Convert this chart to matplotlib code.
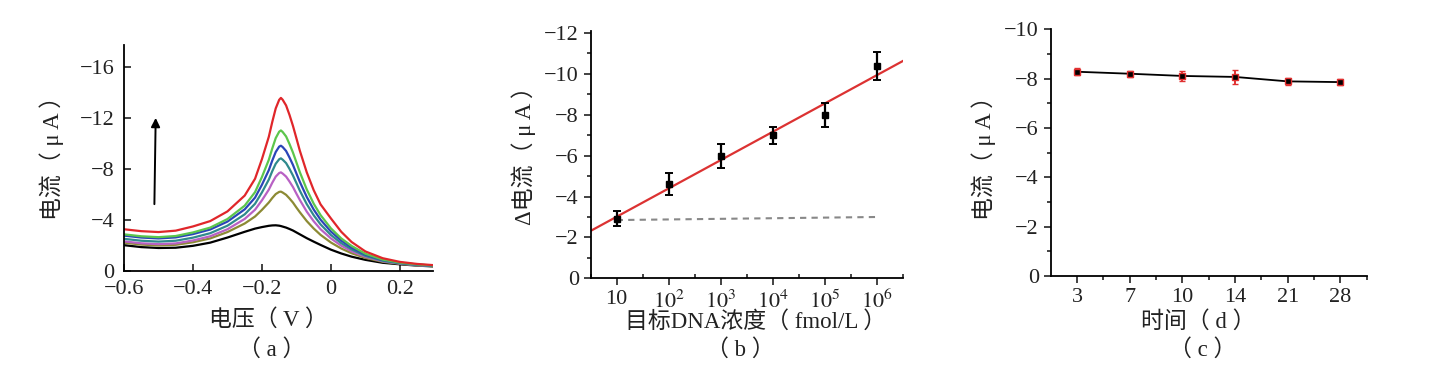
import numpy as np
import matplotlib
matplotlib.use('Agg')
import matplotlib.pyplot as plt
from matplotlib.ticker import FixedLocator, FuncFormatter

plt.rcParams['font.family'] = ['Liberation Serif', 'Noto Sans CJK SC']
plt.rcParams['mathtext.fontset'] = 'stix'

# (a) DPV curves, current in uA (shown negative)
voltage = [-0.60, -0.55, -0.50, -0.45, -0.40, -0.35, -0.30, -0.25, -0.22, -0.20,
           -0.18, -0.17, -0.16, -0.15, -0.145, -0.14, -0.13, -0.12, -0.11, -0.10,
           -0.09, -0.07, -0.05, -0.03, 0.00, 0.03, 0.06, 0.10, 0.15, 0.20, 0.25, 0.30]
cur_black = [2.00, 1.85, 1.78, 1.80, 1.95, 2.20, 2.60, 3.05, 3.30, 3.42,
             3.52, 3.55, 3.56, 3.53, 3.50, 3.46, 3.38, 3.27, 3.15, 3.00,
             2.85, 2.55, 2.28, 2.02, 1.65, 1.35, 1.10, 0.85, 0.62, 0.50, 0.40, 0.33]
cur_olive = [2.20, 2.05, 1.98, 2.03, 2.23, 2.53, 3.03, 3.70, 4.25, 4.77,
             5.35, 5.70, 6.01, 6.18, 6.20, 6.13, 5.95, 5.66, 5.34, 4.95,
             4.58, 3.89, 3.31, 2.81, 2.21, 1.74, 1.37, 1.00, 0.70, 0.54, 0.42, 0.35]
cur_purple = [2.30, 2.15, 2.08, 2.14, 2.37, 2.70, 3.25, 4.06, 4.78, 5.52,
              6.36, 6.90, 7.38, 7.66, 7.71, 7.62, 7.38, 6.99, 6.56, 6.04,
              5.54, 4.63, 3.88, 3.25, 2.53, 1.96, 1.52, 1.09, 0.74, 0.56, 0.43, 0.36]
cur_teal = [2.50, 2.35, 2.28, 2.35, 2.59, 2.94, 3.53, 4.42, 5.25, 6.14,
            7.15, 7.81, 8.39, 8.74, 8.81, 8.71, 8.44, 7.98, 7.46, 6.87,
            6.27, 5.22, 4.35, 3.63, 2.80, 2.16, 1.67, 1.17, 0.78, 0.58, 0.45, 0.37]
cur_blue = [2.75, 2.60, 2.53, 2.61, 2.87, 3.23, 3.85, 4.81, 5.73, 6.74,
            7.89, 8.64, 9.31, 9.73, 9.80, 9.70, 9.39, 8.87, 8.29, 7.62,
            6.96, 5.78, 4.80, 4.00, 3.07, 2.36, 1.81, 1.26, 0.84, 0.62, 0.48, 0.39]
cur_green = [2.85, 2.70, 2.63, 2.72, 3.00, 3.38, 4.05, 5.10, 6.16, 7.35,
             8.70, 9.59, 10.40, 10.90, 11.00, 10.88, 10.53, 9.93, 9.26, 8.49,
             7.72, 6.37, 5.26, 4.36, 3.32, 2.53, 1.94, 1.33, 0.87, 0.63, 0.49, 0.40]
cur_red = [3.25, 3.10, 3.03, 3.14, 3.47, 3.89, 4.65, 5.89, 7.21, 8.75,
           10.51, 11.67, 12.73, 13.40, 13.55, 13.41, 12.96, 12.21, 11.35, 10.38,
           9.40, 7.71, 6.32, 5.20, 4.10, 3.05, 2.25, 1.51, 0.98, 0.69, 0.53, 0.43]

# (b) calibration
conc = [10, 1e2, 1e3, 1e4, 1e5, 1e6]
delta_i = [-2.91, -4.61, -5.99, -7.00, -7.99, -10.39]
delta_err = [0.36, 0.55, 0.60, 0.42, 0.58, 0.68]
blank_x = [10, 1e6]
blank_y = [-2.85, -3.00]

# (c) stability
days = ['3', '7', '10', '14', '21', '28']
stab_i = [-8.28, -8.20, -8.11, -8.07, -7.89, -7.86]
stab_err = [0.15, 0.12, 0.20, 0.27, 0.15, 0.12]

txt = '#222222'
fs = 16
fl = 16.5
W, H = 1452, 366

fig = plt.figure(figsize=(14.52, 3.66), dpi=100)


def minus(v, _):
    return f'{v:g}'.replace('-', '\u2212')


def style(ax, direction):
    for s in ['top', 'right']:
        ax.spines[s].set_visible(False)
    for s in ['left', 'bottom']:
        ax.spines[s].set_linewidth(1.3)
    ax.tick_params(which='both', direction=direction, labelsize=fs, colors=txt, width=1.2)
    ax.tick_params(which='major', length=5)
    ax.tick_params(which='minor', length=3)


def label(x, y, s, rot=0):
    fig.text(x / W, 1 - y / H, s, fontsize=fl, color=txt, ha='center', va='center',
             rotation=rot)


# ---- (a)
ax1 = fig.add_axes([0.0854, 0.2604, 0.2128, 0.6167])
curves = [(cur_black, 'black'), (cur_olive, '#8c8a34'), (cur_purple, '#b861c4'),
          (cur_teal, '#2f8a8c'), (cur_blue, '#2a45b8'), (cur_green, '#5cc64c'),
          (cur_red, '#e0262a')]
for vals, c in curves:
    ax1.plot(voltage, -np.array(vals), color=c, lw=1.6, solid_joinstyle='round')
ax1.annotate('', xy=(-0.508, -12.2), xytext=(-0.512, -5.0),
             arrowprops=dict(arrowstyle='-|>', color='black', lw=1.4, mutation_scale=13))
ax1.set_xlim(-0.6, 0.296)
ax1.set_ylim(0, -17.7)
ax1.set_yticks([0, -4, -8, -12, -16])
ax1.set_xticks([-0.6, -0.4, -0.2, 0, 0.2])
ax1.xaxis.set_major_formatter(FuncFormatter(minus))
ax1.yaxis.set_major_formatter(FuncFormatter(minus))
style(ax1, 'in')
ax1.tick_params(axis='x', pad=7)
ax1.tick_params(axis='y', pad=7)
label(268, 320, '电压（ V ）')
label(52, 152, '电流（ μ A ）', 90)
label(272, 350, '（ a ）')

# ---- (b)
ax2 = fig.add_axes([0.4068, 0.2396, 0.2153, 0.6757])
ax2.set_xscale('log')
k, b = np.polyfit(np.log10(conc), delta_i, 1)
fit_x = np.array([10 ** 0.5, 10 ** 6.5])
ax2.plot(fit_x, k * np.log10(fit_x) + b, color='#dc3232', lw=1.6, zorder=2)
ax2.plot(blank_x, blank_y, color='#888888', lw=1.5, ls=(0, (3, 2.5)), zorder=1)
ax2.errorbar(conc, delta_i, yerr=delta_err, fmt='s', color='black', ms=4,
             capsize=3, elinewidth=1.6, capthick=1.4, zorder=3)
ax2.set_xlim(10 ** 0.5, 10 ** 6.5)
ax2.set_ylim(0, -12.1)
ax2.set_yticks([0, -2, -4, -6, -8, -10, -12])
ax2.yaxis.set_minor_locator(FixedLocator([-1, -3, -5, -7, -9, -11]))
ax2.yaxis.set_major_formatter(FuncFormatter(minus))
ax2.xaxis.set_major_locator(FixedLocator(conc))
ax2.xaxis.set_minor_locator(FixedLocator([10 ** (e + 0.5) for e in range(0, 7)]))
ax2.set_xticklabels(['10', '$10^2$', '$10^3$', '$10^4$', '$10^5$', '$10^6$'])
style(ax2, 'out')
ax2.tick_params(axis='x', which='minor', direction='in')
label(756, 322, '目标DNA浓度（ fmol/L ）')
label(524, 150, 'Δ电流（ μ A ）', 90)
label(740, 350, '（ b ）')

# ---- (c)
ax3 = fig.add_axes([0.7236, 0.2459, 0.2176, 0.674])
xpos = np.arange(len(days))
ax3.plot(xpos, stab_i, color='black', lw=1.3, zorder=2)
ax3.errorbar(xpos, stab_i, yerr=stab_err, fmt='s', color='#e03030', ms=5,
             mfc='black', mec='#e03030', mew=1.0, capsize=2.5, elinewidth=1.4,
             capthick=1.3, zorder=3)
ax3.set_xlim(-0.5, 5.5)
ax3.set_ylim(0, -10)
ax3.set_yticks([0, -2, -4, -6, -8, -10])
ax3.yaxis.set_minor_locator(FixedLocator([-1, -3, -5, -7, -9]))
ax3.yaxis.set_major_formatter(FuncFormatter(minus))
ax3.set_xticks(xpos)
ax3.set_xticklabels(days)
ax3.xaxis.set_minor_locator(FixedLocator(xpos + 0.5))
style(ax3, 'out')
label(1198, 322, '时间（ d ）')
label(984, 152, '电流（ μ A ）', 90)
label(1203, 350, '（ c ）')

fig.savefig('out.png', dpi=100)
